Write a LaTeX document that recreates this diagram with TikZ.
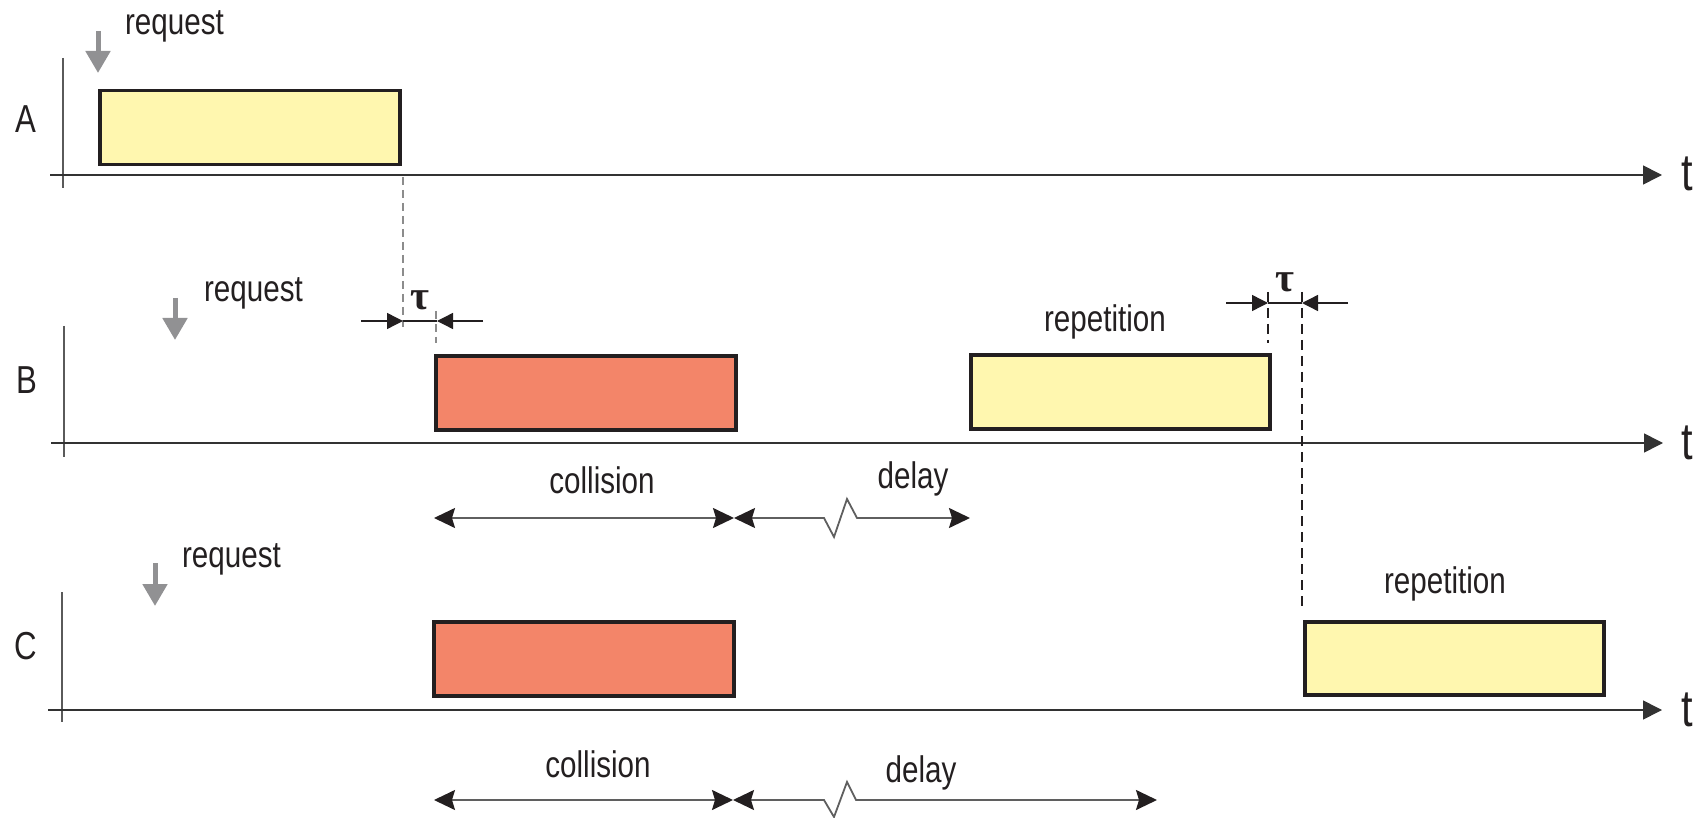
\documentclass[tikz,border=0pt]{standalone}
\usepackage{fontspec}
\setmainfont[FakeStretch=0.8]{Liberation Sans}
\newfontfamily\taufont{Liberation Serif}
\usetikzlibrary{arrows.meta}
\definecolor{boxyellow}{RGB}{255,247,175}
\definecolor{boxred}{RGB}{243,133,105}
\definecolor{edge}{RGB}{35,31,32}
\definecolor{reqgray}{RGB}{145,145,147}
\definecolor{dimgray}{RGB}{95,95,95}
\definecolor{dashgray}{RGB}{140,140,140}
\definecolor{axisc}{RGB}{50,50,50}
\definecolor{vaxc}{RGB}{90,90,90}
\tikzset{
  seg/.style={draw=edge, line width=3.5pt, inner sep=0pt, outer sep=0pt, minimum width=300pt, minimum height=74pt},
  ybox/.style={seg, fill=boxyellow},
  rbox/.style={seg, fill=boxred},
  axisline/.style={draw=axisc, line width=1.6pt, -{Triangle[length=19pt,width=19pt]}},
  vaxis/.style={draw=vaxc, line width=1.2pt},
  reqarrow/.style={draw=reqgray, line width=5pt, -{Triangle[length=22pt,width=24pt]}},
  lab/.style={font=\fontsize{37}{37}\selectfont, text=edge, inner sep=0pt},
  rowlab/.style={font=\fontsize{39}{39}\selectfont, text=edge, inner sep=0pt},
  tlab/.style={font=\fontsize{52}{52}\selectfont, text=edge, inner sep=0pt},
  taulab/.style={font=\taufont\bfseries\fontsize{41}{41}\selectfont, text=edge, inner sep=0pt},
  taudim/.style={draw=edge, line width=1.4pt},
  tauhead/.style={draw=edge, line width=1.4pt, -{Triangle[length=16pt,width=16pt]}},
  gdash/.style={draw=dashgray, line width=1.4pt, dash pattern=on 8pt off 5pt},
  kdash/.style={draw=edge, line width=1.2pt, dash pattern=on 10pt off 6pt},
  dimarrow/.style={draw=dimgray, line width=1.8pt, {Stealth[length=21pt,width=20pt,inset=3pt,color=edge]}-{Stealth[length=21pt,width=20pt,inset=3pt,color=edge]}}
}
\begin{document}
\begin{tikzpicture}[x=1pt,y=-1pt]
\useasboundingbox (0,0) rectangle (1701,818);
% ---------- row A ----------
\coordinate (Av0) at (63,58); \coordinate (Av1) at (63,188);
\coordinate (Ah0) at (50,175); \coordinate (Ah1) at (1662,175);
\draw[vaxis] (Av0) -- (Av1);
\draw[axisline] (Ah0) -- (Ah1);
\node[rowlab, anchor=base] (LA) at (26,133) {A};
\node[tlab, anchor=base] (tA) at (1687,191) {t};
\node[ybox] (boxA) at (250,127.5) {};
\coordinate (rqA0) at (98,31); \coordinate (rqA1) at (98,73);
\draw[reqarrow] (rqA0) -- (rqA1);
\node[lab, anchor=base] (reqA) at (174.5,35) {request};
% ---------- row B ----------
\coordinate (Bv0) at (64,326); \coordinate (Bv1) at (64,457);
\coordinate (Bh0) at (51,443); \coordinate (Bh1) at (1663,443);
\draw[vaxis] (Bv0) -- (Bv1);
\draw[axisline] (Bh0) -- (Bh1);
\node[rowlab, anchor=base] (LB) at (27,393) {B};
\node[tlab, anchor=base] (tB) at (1687,459) {t};
\node[rbox] (boxB1) at (586,393) {};
\node[ybox, minimum width=299pt] (boxB2) at (1120.5,392) {};
\coordinate (rqB0) at (175,298); \coordinate (rqB1) at (175,340);
\draw[reqarrow] (rqB0) -- (rqB1);
\node[lab, anchor=base] (reqB) at (253.5,302) {request};
\node[lab, anchor=base] (repB) at (1105,332) {repetition};
% tau between A and B
\coordinate (dA0) at (403,177); \coordinate (dA1) at (403,327);
\draw[gdash] (dA0) -- (dA1);
\coordinate (dB0) at (436,311); \coordinate (dB1) at (436,343);
\draw[gdash] (dB0) -- (dB1);
\coordinate (t1a) at (361,321); \coordinate (t1b) at (403,321);
\coordinate (t1c) at (437,321); \coordinate (t1d) at (483,321);
\draw[taudim] (t1b) -- (t1c);
\draw[tauhead] (t1a) -- (t1b);
\draw[tauhead] (t1d) -- (t1c);
\node[taulab] (tau1) at (420,300) {τ};
% tau right
\coordinate (dR0) at (1268,292); \coordinate (dR1) at (1268,343);
\draw[kdash] (dR0) -- (dR1);
\coordinate (dS0) at (1302,292); \coordinate (dS1) at (1302,607);
\draw[kdash] (dS0) -- (dS1);
\coordinate (t2a) at (1226,303); \coordinate (t2b) at (1268,303);
\coordinate (t2c) at (1302,303); \coordinate (t2d) at (1348,303);
\draw[taudim] (t2b) -- (t2c);
\draw[tauhead] (t2a) -- (t2b);
\draw[tauhead] (t2d) -- (t2c);
\node[taulab] (tau2) at (1285,282) {τ};
% collision / delay under B
\coordinate (cB0) at (434,518); \coordinate (cB1) at (734,518);
\draw[dimarrow] (cB0) -- (cB1);
\coordinate (zB1) at (824,518); \coordinate (zB2) at (834,537);
\coordinate (zB3) at (847,499); \coordinate (zB4) at (857,518);
\coordinate (dlB) at (970,518);
\draw[dimarrow] (cB1) -- (zB1) -- (zB2) -- (zB3) -- (zB4) -- (dlB);
\node[lab, anchor=base] (colB) at (602,493) {collision};
\node[lab, anchor=base] (delB) at (913,488) {delay};
% ---------- row C ----------
\coordinate (Cv0) at (62,592); \coordinate (Cv1) at (62,722);
\coordinate (Ch0) at (48,710); \coordinate (Ch1) at (1662,710);
\draw[vaxis] (Cv0) -- (Cv1);
\draw[axisline] (Ch0) -- (Ch1);
\node[rowlab, anchor=base] (LC) at (25.5,659) {C};
\node[tlab, anchor=base] (tC) at (1687,726) {t};
\node[rbox] (boxC1) at (584,659) {};
\node[ybox, minimum width=299pt, minimum height=73pt] (boxC2) at (1454.5,658.5) {};
\coordinate (rqC0) at (155,563); \coordinate (rqC1) at (155,606);
\draw[reqarrow] (rqC0) -- (rqC1);
\node[lab, anchor=base] (reqC) at (231.5,567) {request};
\node[lab, anchor=base] (repC) at (1445,593) {repetition};
% collision / delay under C
\coordinate (cC0) at (434,800); \coordinate (cC1) at (733,800);
\draw[dimarrow] (cC0) -- (cC1);
\coordinate (zC1) at (824,800); \coordinate (zC2) at (834,817);
\coordinate (zC3) at (847,782); \coordinate (zC4) at (856,800);
\coordinate (dlC) at (1157,800);
\draw[dimarrow] (cC1) -- (zC1) -- (zC2) -- (zC3) -- (zC4) -- (dlC);
\node[lab, anchor=base] (colC) at (598,777) {collision};
\node[lab, anchor=base] (delC) at (921,782) {delay};
\end{tikzpicture}
\end{document}
